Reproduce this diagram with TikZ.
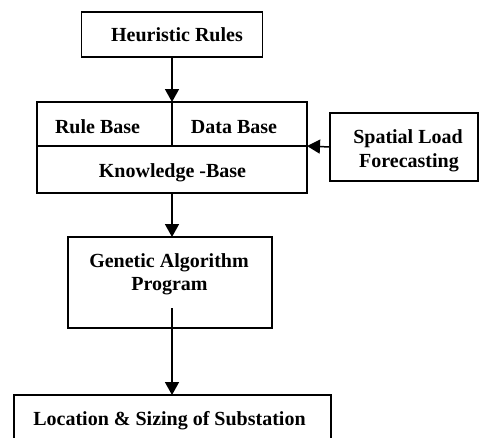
\documentclass[tikz,border=0pt]{standalone}
\usepackage{fontspec}
\setmainfont{Liberation Serif}
\usetikzlibrary{arrows.meta}
\tikzset{
  box/.style={draw, line width=1.5pt, rectangle, inner sep=0pt, outer sep=0pt},
  lbl/.style={anchor=base, inner sep=0pt, font=\bfseries\fontsize{20}{24}\selectfont},
  conn/.style={line width=1.5pt, -{Triangle[length=13pt,width=14pt]}},
}
\begin{document}
\begin{tikzpicture}[x=1pt,y=-1pt]
\useasboundingbox (0,0) rectangle (479,437);
\clip (0,0) rectangle (479,437);
% boxes
\node[box, minimum width=181pt, minimum height=45pt] (heur) at (172,34.5) {};
\node[box, minimum width=270pt, minimum height=91pt] (kb) at (172,147.5) {};
\node[box, minimum width=148pt, minimum height=68pt] (slf) at (404,147) {};
\node[box, minimum width=204pt, minimum height=91pt] (ga) at (170,282.5) {};
\node[box, minimum width=317pt, minimum height=70pt] (loc) at (172.5,430) {};
% knowledge base dividers
\coordinate (divL) at (37,146);
\coordinate (divR) at (307,146);
\coordinate (divT) at (172,102);
\coordinate (divB) at (172,146);
\draw[line width=1.5pt] (divL) -- (divR);
\draw[line width=1.5pt] (divT) -- (divB);
% labels
\node[lbl] (t1) at (177,41) {Heuristic Rules};
\node[lbl] (t2) at (97.5,133) {Rule Base};
\node[lbl] (t3) at (234,133) {Data Base};
\node[lbl] (t4) at (172.5,177) {Knowledge -Base};
\node[lbl] (t5) at (408,143) {Spatial Load};
\node[lbl] (t6) at (409,167) {Forecasting};
\node[lbl] (t7) at (169,267) {Genetic Algorithm};
\node[lbl] (t8) at (169.5,290) {Program};
\node[lbl] (t9) at (169.5,425) {Location \& Sizing of Substation};
% connectors
\coordinate (hs) at (172,57);
\coordinate (gs) at (172,308);
\draw[conn] (hs) -- (divT);
\draw[conn] (slf.west) -- (divR);
\draw[conn] (kb.south) -- (ga.north -| kb.south);
\draw[conn] (gs) -- (gs |- loc.north);
\end{tikzpicture}
\end{document}
